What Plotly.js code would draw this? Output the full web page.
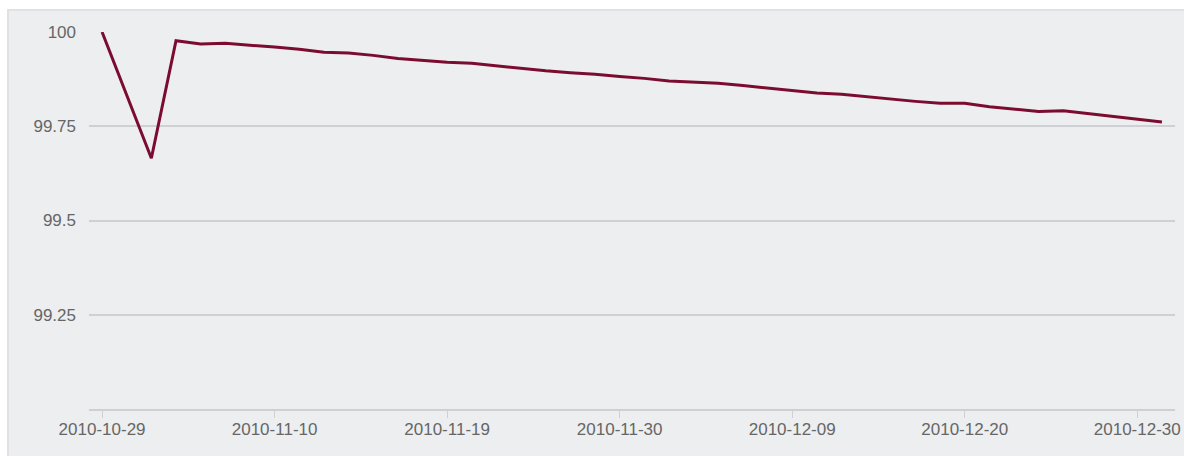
<!DOCTYPE html>
<html>
<head>
<meta charset="utf-8">
<script src="https://cdn.plot.ly/plotly-3.0.1.min.js"></script>
<style>
  html, body { margin: 0; padding: 0; background: #ffffff; width: 1184px; height: 456px; overflow: hidden; }
  #panel { position: absolute; left: 7px; top: 9px; width: 1177px; height: 447px; background: #eceef0;
           border-top: 2px solid #dfe1e4; border-left: 2px solid #dfe1e4; box-sizing: border-box; }
  #chart { position: absolute; left: 0; top: 0; width: 1184px; height: 456px; }
</style>
</head>
<body>
<div id="panel"></div>
<div id="chart"></div>
<script>
const dates = [
  "2010-10-29","2010-11-01","2010-11-02","2010-11-03","2010-11-04","2010-11-05","2010-11-08","2010-11-10",
  "2010-11-11","2010-11-12","2010-11-15","2010-11-16","2010-11-17","2010-11-18","2010-11-19",
  "2010-11-22","2010-11-23","2010-11-24","2010-11-25","2010-11-26","2010-11-29","2010-11-30",
  "2010-12-01","2010-12-02","2010-12-03","2010-12-06","2010-12-07","2010-12-08","2010-12-09",
  "2010-12-10","2010-12-13","2010-12-14","2010-12-15","2010-12-16","2010-12-17","2010-12-20",
  "2010-12-21","2010-12-22","2010-12-23","2010-12-27","2010-12-28","2010-12-29","2010-12-30",
  "2010-12-31"
];
const values = [
  100.000, 99.833, 99.665, 99.977, 99.968, 99.970, 99.966, 99.960,
  99.954, 99.946, 99.944, 99.938, 99.930, 99.925, 99.920,
  99.917, 99.910, 99.903, 99.897, 99.892, 99.888, 99.882,
  99.877, 99.870, 99.867, 99.864, 99.858, 99.851, 99.844,
  99.838, 99.835, 99.828, 99.821, 99.816, 99.811, 99.811,
  99.802, 99.796, 99.789, 99.791, 99.784, 99.776, 99.768,
  99.761
];
const xTickLabels = ["2010-10-29","2010-11-10","2010-11-19","2010-11-30","2010-12-09","2010-12-20","2010-12-30"];
const yTickValues = [99.25, 99.5, 99.75, 100];
const yTickLabels = ["99.25", "99.5", "99.75", "100"];

const trace = {
  x: dates,
  y: values,
  type: "scatter",
  mode: "lines",
  line: { color: "#7b0c30", width: 3 },
  hoverinfo: "x+y"
};

const layout = {
  width: 1184,
  height: 456,
  margin: { l: 89, r: 9, t: 32, b: 47 },
  paper_bgcolor: "rgba(0,0,0,0)",
  plot_bgcolor: "rgba(0,0,0,0)",
  showlegend: false,
  font: { family: "Liberation Sans, Arial, sans-serif", size: 17, color: "#666666" },
  xaxis: {
    type: "category",
    range: [-0.53, dates.length - 1 + 0.53],
    tickmode: "array",
    tickvals: xTickLabels,
    ticktext: xTickLabels,
    ticks: "outside",
    ticklen: 7,
    tickcolor: "#cfd0d3",
    tickwidth: 1,
    ticklabelstandoff: -3,
    showline: true,
    linecolor: "#cfd0d3",
    linewidth: 2,
    showgrid: false,
    zeroline: false,
    tickfont: { size: 17, color: "#666666" },
    fixedrange: true
  },
  yaxis: {
    range: [99, 100],
    tickmode: "array",
    tickvals: yTickValues,
    ticktext: yTickLabels,
    showgrid: true,
    gridcolor: "#cfd0d3",
    gridwidth: 2,
    zeroline: false,
    showline: false,
    ticks: "",
    ticklabelstandoff: 12,
    tickfont: { size: 17, color: "#666666" },
    fixedrange: true
  }
};

Plotly.newPlot("chart", [trace], layout, { displayModeBar: false, staticPlot: true });
</script>
</body>
</html>
